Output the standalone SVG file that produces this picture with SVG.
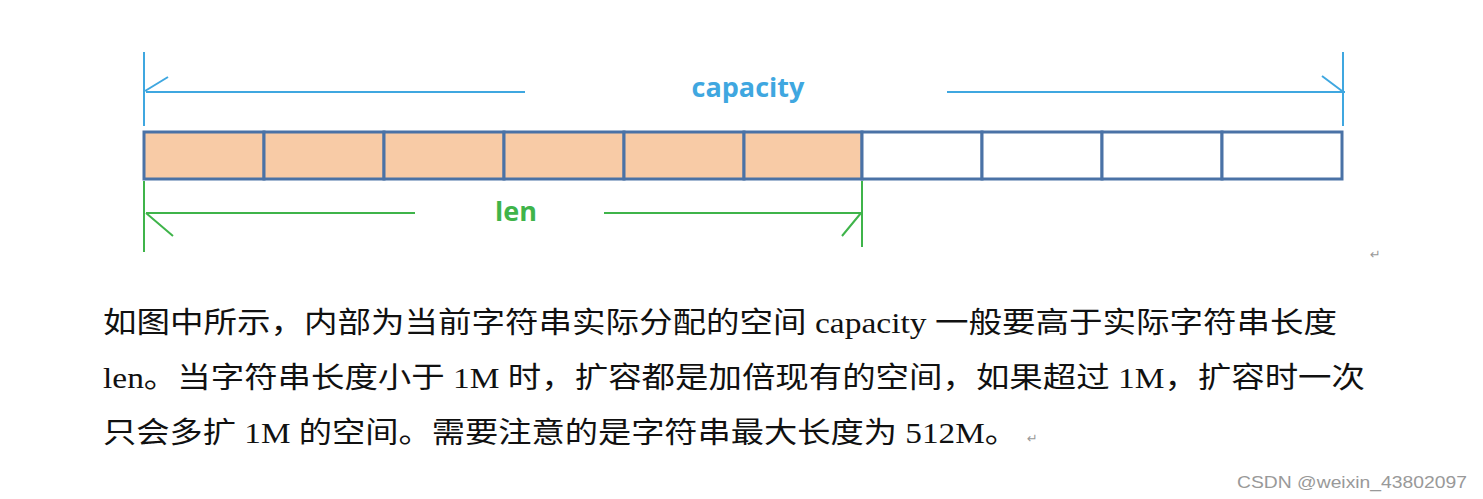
<svg xmlns="http://www.w3.org/2000/svg" width="1483" height="499" viewBox="0 0 1483 499">
<style>
.cell{stroke:#4a72a6;stroke-width:3}
.f{fill:#f8cba6}.e{fill:#fff}
.cap{stroke:#3fa7e0;stroke-width:2;fill:none}
.len{stroke:#3fb44a;stroke-width:2;fill:none}
.t{font-family:"Liberation Serif","Noto Sans CJK SC",serif;font-size:29px;fill:#111}
</style>
<rect width="1483" height="499" fill="#fff"/>
<g id="cells">
<rect class="cell f" x="144" y="132" width="120" height="47"/>
<rect class="cell f" x="264" y="132" width="120" height="47"/>
<rect class="cell f" x="384" y="132" width="120" height="47"/>
<rect class="cell f" x="504" y="132" width="120" height="47"/>
<rect class="cell f" x="624" y="132" width="120" height="47"/>
<rect class="cell f" x="744" y="132" width="118" height="47"/>
<rect class="cell e" x="862" y="132" width="120" height="47"/>
<rect class="cell e" x="982" y="132" width="120" height="47"/>
<rect class="cell e" x="1102" y="132" width="120" height="47"/>
<rect class="cell e" x="1222" y="132" width="120" height="47"/>
</g>
<g id="connectors">
<path class="cap" d="M144 52V126M146 92H525M145 91L168 77M947 92H1345M1343 52V126M1342 91L1322 76"/>
<path class="len" d="M144 181V252M146 213H415M146 213L173 236M604 213H862M862 181V247M861 213L842 236"/>
</g>
<g id="labels">
<text x="748" y="97" text-anchor="middle" font-family="Open Sans,sans-serif" font-weight="bold" font-size="27" fill="#3fa7e0">capacity</text>
<text x="516" y="221" text-anchor="middle" font-family="Open Sans,sans-serif" font-weight="bold" font-size="27" fill="#3fb44a">len</text>
<text x="1370" y="259" font-family="DejaVu Sans,sans-serif" font-size="13" fill="#999">↵</text>
</g>
<g id="para">
<text class="t" x="103" y="333" textLength="1234" lengthAdjust="spacingAndGlyphs">如图中所示，内部为当前字符串实际分配的空间 capacity 一般要高于实际字符串长度</text>
<text class="t" x="103" y="388" textLength="1262" lengthAdjust="spacingAndGlyphs">len。当字符串长度小于 1M 时，扩容都是加倍现有的空间，如果超过 1M，扩容时一次</text>
<text class="t" x="103" y="443" textLength="915" lengthAdjust="spacingAndGlyphs">只会多扩 1M 的空间。需要注意的是字符串最大长度为 512M。</text>
<text x="1027" y="443" font-family="DejaVu Sans,sans-serif" font-size="13" fill="#999">↵</text>
</g>
<text x="1237" y="488" font-family="Liberation Sans,sans-serif" font-size="17" fill="#999" textLength="230" lengthAdjust="spacingAndGlyphs">CSDN @weixin_43802097</text>
</svg>
